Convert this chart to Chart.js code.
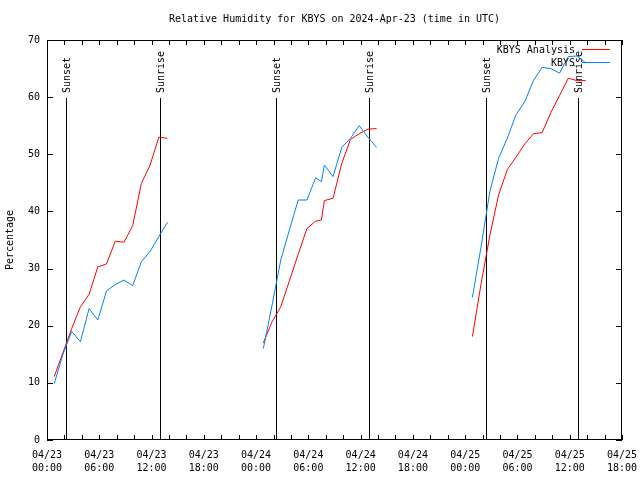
<!DOCTYPE html>
<html lang="en">
<head>
<meta charset="UTF-8">
<title>Relative Humidity for KBYS</title>
<script src="https://cdn.jsdelivr.net/npm/chart.js"></script>
<style>
  html, body { margin: 0; padding: 0; background: #fff; }
  #wrap { width: 640px; height: 480px; }
</style>
</head>
<body>
<div id="wrap"><canvas id="rh" width="640" height="480"></canvas></div>
<script>
// observation times (UTC), one list per day
const day1Times = ['04/23 00:50', '04/23 01:50', '04/23 02:50', '04/23 03:50', '04/23 04:50', '04/23 05:50', '04/23 06:50',
                   '04/23 07:50', '04/23 08:50', '04/23 09:50', '04/23 10:50', '04/23 11:50', '04/23 12:50', '04/23 13:50'];
const day2Times = ['04/24 00:50', '04/24 01:50', '04/24 02:50', '04/24 03:50', '04/24 04:50', '04/24 05:50', '04/24 06:50', '04/24 07:30',
                   '04/24 07:50', '04/24 08:50', '04/24 09:50', '04/24 10:50', '04/24 11:50', '04/24 12:50', '04/24 13:50'];
const day3Times = ['04/25 00:50', '04/25 01:50', '04/25 02:50', '04/25 03:50', '04/25 04:50', '04/25 05:50', '04/25 06:50',
                   '04/25 07:50', '04/25 08:50', '04/25 09:50', '04/25 10:50', '04/25 11:50', '04/25 12:50', '04/25 13:50'];

// KBYS Analysis (red)
const analysis1 = [11.1, 15.3, 19.5, 23.3, 25.5, 30.3, 30.8, 34.8, 34.6, 37.5, 44.9, 48.1, 53.0, 52.8];
const analysis2 = [17.0, 20.7, 23.3, 27.9, 32.5, 37.0, 38.3, 38.5, 41.9, 42.3, 48.4, 52.6, 53.6, 54.4, 54.5];
const analysis3 = [18.1, 27.4, 35.8, 42.9, 47.3, 49.5, 51.8, 53.6, 53.8, 57.3, 60.3, 63.3, 62.9, 62.9];

// KBYS observed (blue)
const obs1 = [9.9, 15.0, 19.0, 17.2, 23.0, 21.0, 26.1, 27.2, 28.0, 27.0, 31.2, 33.0, 35.6, 38.1];
const obs2 = [16.0, 23.6, 31.5, 36.8, 42.0, 42.0, 45.9, 45.2, 48.1, 46.1, 51.2, 52.8, 55.0, 53.0, 51.2];
const obs3 = [25.0, 33.9, 43.5, 49.3, 52.8, 56.9, 59.2, 62.9, 65.2, 65.0, 64.2, 67.1, 67.2, 66.0];

// sun events
const eventNames = ['Sunset', 'Sunrise', 'Sunset', 'Sunrise', 'Sunset', 'Sunrise'];
const eventTimes = ['04/23 02:13', '04/23 13:00', '04/24 02:18', '04/24 13:00', '04/25 02:21', '04/25 12:59'];

const yTicks = [0, 10, 20, 30, 40, 50, 60, 70];

const FONT = "'DejaVu Sans Mono', 'Liberation Mono', monospace";
const RED = '#ff0000';
const BLUE = '#0080ff';

// hours since 04/23 00:00 UTC
function toHours(s) {
    const [md, hm] = s.split(' ');
    const day = parseInt(md.split('/')[1], 10);
    const [h, m] = hm.split(':').map(Number);
    return (day - 23) * 24 + h + m / 60;
}

function series(days) {
    const pts = [];
    days.forEach(([times, vals], i) => {
        if (i > 0) pts.push({ x: toHours(times[0]) - 1, y: null });
        times.forEach((t, j) => pts.push({ x: toHours(t), y: vals[j] }));
    });
    return pts;
}

function pad(n) { return (n < 10 ? '0' : '') + n; }

// gnuplot-like frame, inward ticks, sun lines, legend and title
const gnuplotLook = {
    id: 'gnuplotLook',
    beforeDatasetsDraw(chart) {
        const { ctx, chartArea: a, scales: { x } } = chart;
        ctx.save();
        ctx.strokeStyle = '#000';
        ctx.lineWidth = 1;
        ctx.fillStyle = '#000';
        ctx.font = '10px ' + FONT;
        eventTimes.forEach((t, i) => {
            const px = Math.round(x.getPixelForValue(toHours(t))) + 0.5;
            ctx.beginPath();
            ctx.moveTo(px, a.top + 58);
            ctx.lineTo(px, a.bottom);
            ctx.stroke();
            ctx.save();
            ctx.translate(px + 1, a.top + 53);
            ctx.rotate(-Math.PI / 2);
            ctx.textAlign = 'left';
            ctx.textBaseline = 'middle';
            ctx.fillText(eventNames[i], 0, 0);
            ctx.restore();
        });
        ctx.restore();
    },
    afterDraw(chart) {
        const { ctx, chartArea: a, scales: { x, y } } = chart;
        ctx.save();
        ctx.strokeStyle = '#000';
        ctx.lineWidth = 1;
        ctx.strokeRect(a.left + 0.5, a.top + 0.5, a.right - a.left - 1, a.bottom - a.top - 1);

        ctx.beginPath();
        x.ticks.forEach(t => {
            const px = Math.round(x.getPixelForValue(t.value)) + 0.5;
            ctx.moveTo(px, a.bottom); ctx.lineTo(px, a.bottom - 5);
            ctx.moveTo(px, a.top); ctx.lineTo(px, a.top + 5);
        });
        y.ticks.forEach(t => {
            const py = Math.round(y.getPixelForValue(t.value)) + 0.5;
            ctx.moveTo(a.left, py); ctx.lineTo(a.left + 6, py);
            ctx.moveTo(a.right, py); ctx.lineTo(a.right - 6, py);
        });
        ctx.stroke();

        // legend
        ctx.font = '10px ' + FONT;
        ctx.fillStyle = '#000';
        ctx.textAlign = 'right';
        ctx.textBaseline = 'middle';
        chart.data.datasets.forEach((ds, i) => {
            const ly = a.top + 10 + i * 13;
            ctx.fillText(ds.label, a.right - 47, ly);
            ctx.strokeStyle = ds.borderColor;
            ctx.beginPath();
            ctx.moveTo(a.right - 40, ly - 0.5);
            ctx.lineTo(a.right - 12, ly - 0.5);
            ctx.stroke();
        });

        // title
        ctx.textAlign = 'center';
        ctx.fillText('Relative Humidity for KBYS on 2024-Apr-23 (time in UTC)', (a.left + a.right) / 2, 19);
        ctx.restore();
    }
};

Chart.defaults.font.family = FONT;
Chart.defaults.font.size = 10;
Chart.defaults.color = '#000';

new Chart(document.getElementById('rh'), {
    type: 'line',
    data: {
        datasets: [
            {
                label: 'KBYS Analysis',
                data: series([[day1Times, analysis1], [day2Times, analysis2], [day3Times, analysis3]]),
                borderColor: RED,
                borderWidth: 1,
                pointRadius: 0,
                tension: 0,
                spanGaps: false,
                order: 1
            },
            {
                label: 'KBYS',
                data: series([[day1Times, obs1], [day2Times, obs2], [day3Times, obs3]]),
                borderColor: BLUE,
                borderWidth: 1,
                pointRadius: 0,
                tension: 0,
                spanGaps: false,
                order: 0
            }
        ]
    },
    plugins: [gnuplotLook],
    options: {
        responsive: false,
        animation: false,
        events: [],
        layout: { padding: { top: 40, right: 18, left: 0, bottom: 0 } },
        plugins: { legend: { display: false }, tooltip: { enabled: false } },
        scales: {
            x: {
                type: 'linear',
                min: 0,
                max: 66,
                afterFit(scale) {
                    scale.height = 40;
                    scale.paddingLeft = 0;
                    scale.paddingRight = 0;
                },
                grid: { display: false, drawTicks: false },
                border: { display: false },
                ticks: {
                    stepSize: 2,
                    autoSkip: false,
                    maxRotation: 0,
                    padding: 9,
                    font: { size: 10, lineHeight: 1.3 },
                    callback(v) {
                        if (v % 6 !== 0) return '';
                        const d = 23 + Math.floor(v / 24);
                        return ['04/' + d, pad(v % 24) + ':00'];
                    }
                }
            },
            y: {
                min: 0,
                max: 70,
                afterFit(scale) { scale.width = 47; },
                afterBuildTicks(scale) { scale.ticks = yTicks.map(v => ({ value: v })); },
                grid: { display: false, drawTicks: false },
                border: { display: false },
                ticks: { padding: 7 },
                title: { display: true, text: 'Percentage', padding: { top: 4, bottom: 0 } }
            }
        }
    }
});
</script>
</body>
</html>
